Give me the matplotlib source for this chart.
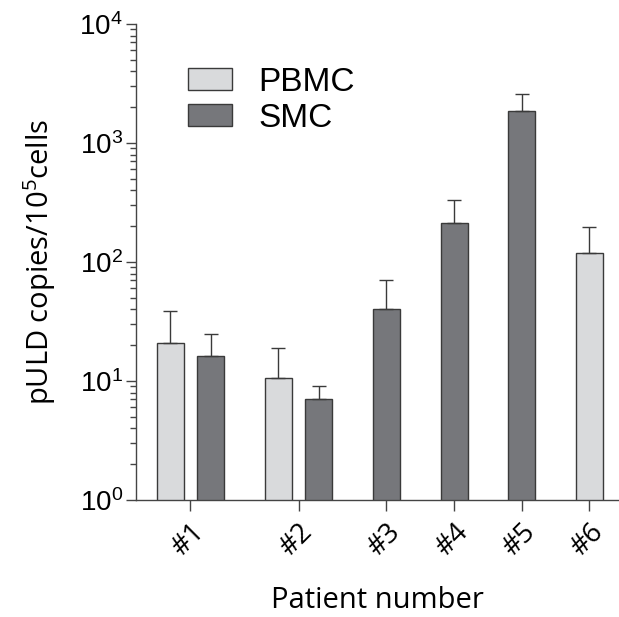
import matplotlib
matplotlib.use('Agg')
import matplotlib.pyplot as plt
from matplotlib.patches import Patch
from matplotlib.ticker import LogLocator, LogFormatterSciNotation, NullFormatter

plt.rcParams['font.family'] = ['Liberation Sans', 'DejaVu Sans']
plt.rcParams['mathtext.default'] = 'regular'

# data
patients = ['#1', '#2', '#3', '#4', '#5', '#6']
tick_pos = [0.75, 4.75, 8, 10.5, 13, 15.5]

pbmc_pos = [0, 4, 15.5]
pbmc_vals = [21, 10.7, 118]
pbmc_err = [18, 8.3, 79]

smc_pos = [1.5, 5.5, 8, 10.5, 13]
smc_vals = [16.2, 7.0, 40, 214, 1845]
smc_err = [8.6, 2.0, 30, 119, 750]

light = '#d9dadc'
dark = '#76777b'
edge = '#3a3a3a'

fig = plt.figure(figsize=(6.19, 6.17), dpi=100)
ax = fig.add_axes([0.2197, 0.1896, 0.7803, 0.7715])

ax.bar(pbmc_pos, pbmc_vals, width=1.0, color=light, edgecolor=edge, linewidth=1.0,
       yerr=[[0] * len(pbmc_err), pbmc_err], capsize=4.7,
       error_kw=dict(ecolor=edge, elinewidth=1.0, capthick=1.0), zorder=2)
ax.bar(smc_pos, smc_vals, width=1.0, color=dark, edgecolor=edge, linewidth=1.0,
       yerr=[[0] * len(smc_err), smc_err], capsize=4.7,
       error_kw=dict(ecolor=edge, elinewidth=1.0, capthick=1.0), zorder=2)

ax.set_yscale('log')
ax.set_ylim(1, 1e4)
ax.set_xlim(-1.26, 16.6)

ax.yaxis.set_major_locator(LogLocator(base=10, numticks=10))
ax.yaxis.set_major_formatter(LogFormatterSciNotation())
ax.yaxis.set_minor_locator(LogLocator(base=10, subs=range(2, 10), numticks=20))
ax.yaxis.set_minor_formatter(NullFormatter())

ax.set_xticks(tick_pos)
ax.set_xticklabels(patients, rotation=45, ha='right', rotation_mode='anchor',
                   fontsize=20, family='Open Sans')

for s in ['top', 'right']:
    ax.spines[s].set_visible(False)
for s in ['left', 'bottom']:
    ax.spines[s].set_color('#444444')
    ax.spines[s].set_linewidth(1.0)

ax.tick_params(axis='y', which='major', length=7.5, width=1.0, color='#444444',
               labelsize=20, pad=2)
ax.tick_params(axis='y', which='minor', length=4, width=1.0, color='#444444')
ax.tick_params(axis='x', which='major', length=8, width=1.0, color='#444444', pad=5)

ax.set_xlabel('Patient number', fontsize=21, family='Open Sans', labelpad=17)
ax.set_ylabel('pULD copies/10$^{5}$cells', fontsize=21, family='Open Sans', labelpad=15)

handles = [Patch(facecolor=light, edgecolor=edge, linewidth=1.0, label='PBMC'),
           Patch(facecolor=dark, edgecolor=edge, linewidth=1.0, label='SMC')]
ax.legend(handles=handles, loc='upper left', bbox_to_anchor=(0.108, 0.91), frameon=False,
          fontsize=24, handlelength=1.32, handleheight=0.66, handletextpad=0.78,
          labelspacing=0.15, borderpad=0, borderaxespad=0)

fig.savefig('out.png', dpi=100)
